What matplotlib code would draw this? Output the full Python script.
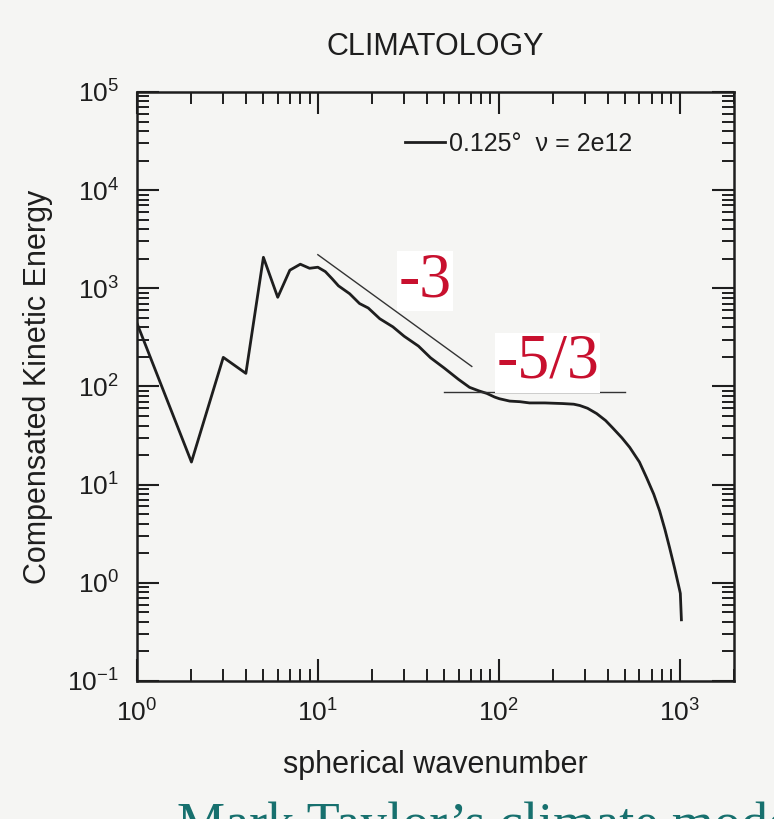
import matplotlib
matplotlib.use('Agg')
import matplotlib.pyplot as plt
from matplotlib.ticker import LogLocator, NullFormatter

# spectrum (wavenumber, compensated KE)
wavenumber = [1, 2, 3, 4, 5, 6, 7, 8, 9, 10, 11, 12, 13, 15, 17, 19, 22, 26, 30,
              36, 42, 50, 60, 69, 78, 86, 95, 101, 115, 131, 148, 180, 226, 260,
              281, 310, 348, 390, 426, 480, 530, 600, 657, 720, 776, 830, 881,
              940, 1000, 1010, 1024]
energy = [440, 17, 198, 136, 2070, 810, 1530, 1760, 1600, 1640, 1480, 1250, 1060,
          880, 700, 630, 490, 405, 325, 258, 196, 154, 118, 98, 90, 85, 78, 75,
          71, 70, 68, 68, 67, 66, 64, 60, 53, 45, 38, 30, 24, 17, 11.8, 8.0, 5.4,
          3.5, 2.28, 1.4, 0.85, 0.78, 0.42]

# reference slopes drawn on the figure
slope3_k = [10, 71]
slope3_e = [2200, 160]
slope53_k = [50, 500]
slope53_e = [87, 87]

bg = '#f5f5f3'
ink = '#1e1e1e'
red = '#c8102e'
sans = ['Liberation Sans', 'DejaVu Sans']
serif = ['Liberation Serif', 'DejaVu Serif']

plt.rcParams['font.family'] = sans
plt.rcParams['mathtext.fontset'] = 'custom'
plt.rcParams['mathtext.rm'] = 'Liberation Sans'
plt.rcParams['axes.unicode_minus'] = False

fig = plt.figure(figsize=(7.74, 8.19), dpi=100, facecolor=bg)
ax = fig.add_axes([0.1770, 0.1685, 0.7713, 0.7192], facecolor=bg)

ax.plot(wavenumber, energy, color=ink, linewidth=2.0, label='0.125°  ν = 2e12')
ax.plot(slope3_k, slope3_e, color='#333333', linewidth=1.0)
ax.plot(slope53_k, slope53_e, color='#333333', linewidth=1.0)

ax.set_xscale('log')
ax.set_yscale('log')
ax.set_xlim(1, 2000)
ax.set_ylim(0.1, 1e5)

for a in (ax.xaxis, ax.yaxis):
    a.set_major_locator(LogLocator(base=10))
    a.set_minor_locator(LogLocator(base=10, subs=range(2, 10)))
    a.set_minor_formatter(NullFormatter())

ax.tick_params(which='both', direction='in', top=True, right=True, colors=ink)
ax.tick_params(which='major', length=16, width=1.5, labelsize=19, pad=13)
ax.tick_params(which='minor', length=8.5, width=1.4)
for s in ax.spines.values():
    s.set_linewidth(1.8)
    s.set_color(ink)

ax.set_xlabel('spherical wavenumber', fontsize=22, color=ink, labelpad=17)
ax.set_ylabel('Compensated Kinetic Energy', fontsize=22, color=ink, labelpad=10)
fig.text(435 / 774, 1 - 47 / 819, 'CLIMATOLOGY', ha='center', va='center',
         fontsize=22, color=ink)

ax.legend(loc='center left', bbox_to_anchor=(0.449, 0.912), frameon=False,
          fontsize=18, handlelength=1.6, handletextpad=0.15, borderpad=0,
          borderaxespad=0, labelcolor=ink)

# red slope labels pasted over the figure
ax.text(0.482, 0.679, '-3', transform=ax.transAxes, ha='center', va='center',
        fontsize=46, color=red, family=serif,
        bbox=dict(facecolor='white', edgecolor='none', pad=1))
ax.text(0.688, 0.540, '-5/3', transform=ax.transAxes, ha='center', va='center',
        fontsize=46, color=red, family=serif,
        bbox=dict(facecolor='white', edgecolor='none', pad=1))

# slide caption, cut off by the bottom edge as in the source slide
fig.text(177 / 774, 1 - 802 / 819, 'Mark Taylor’s climate model', ha='left',
         va='top', fontsize=39, color='#17706e', family=serif)

fig.savefig('out.png', dpi=100, facecolor=bg)
